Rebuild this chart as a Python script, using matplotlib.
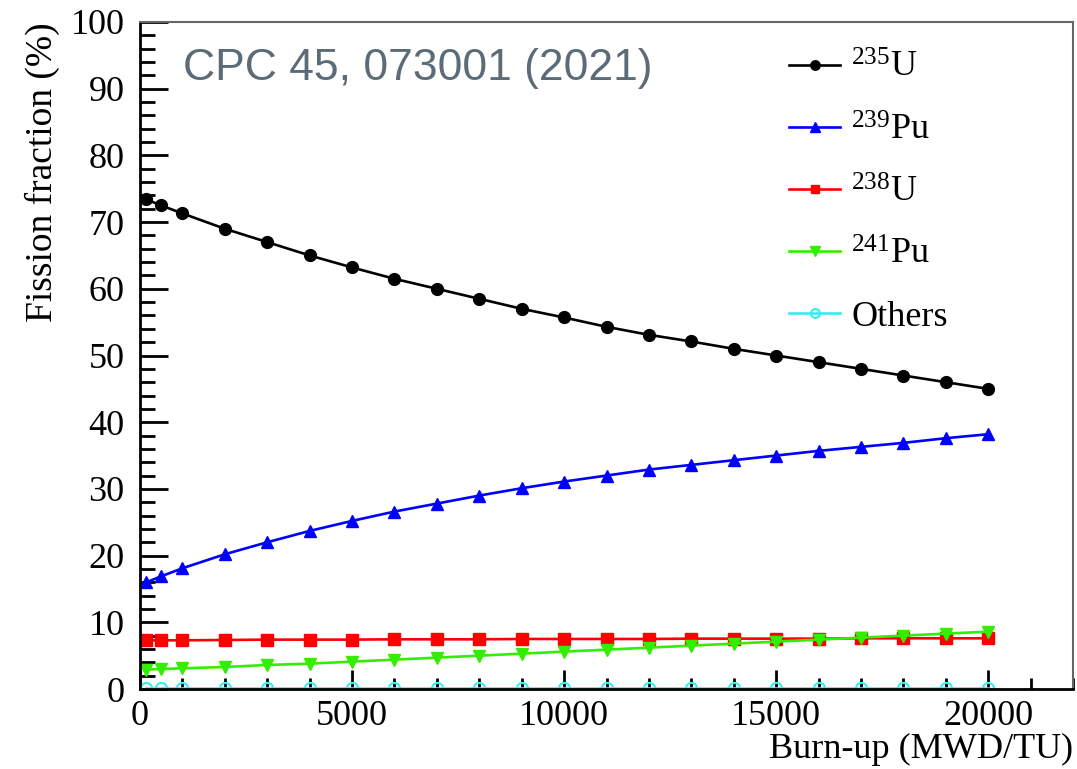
import matplotlib
matplotlib.use("Agg")
import matplotlib.pyplot as plt
from matplotlib.ticker import MultipleLocator

burnup = [150, 500, 1000, 2000, 3000, 4000, 5000, 6000, 7000, 8000, 9000, 10000,
          11000, 12000, 13000, 14000, 15000, 16000, 17000, 18000, 19000, 20000]
u235 = [73.4, 72.5, 71.3, 69.0, 67.0, 65.0, 63.2, 61.5, 60.0, 58.5, 57.0, 55.7,
        54.3, 53.1, 52.1, 51.0, 50.0, 49.0, 48.0, 47.0, 46.0, 45.0]
pu239 = [16.0, 16.9, 18.1, 20.2, 22.0, 23.7, 25.2, 26.6, 27.8, 29.0, 30.1, 31.1,
         32.0, 32.9, 33.6, 34.3, 35.0, 35.7, 36.3, 36.9, 37.6, 38.2]
u238 = [7.3, 7.3, 7.3, 7.35, 7.4, 7.4, 7.4, 7.45, 7.45, 7.45, 7.5, 7.5,
        7.5, 7.5, 7.55, 7.55, 7.55, 7.55, 7.6, 7.6, 7.6, 7.6]
pu241 = [2.9, 3.0, 3.1, 3.3, 3.6, 3.8, 4.1, 4.4, 4.7, 5.0, 5.3, 5.6,
         5.9, 6.2, 6.5, 6.8, 7.1, 7.4, 7.7, 8.0, 8.3, 8.6]
others = [0.2] * 22

labels = [r"$^{235}$U", r"$^{239}$Pu", r"$^{238}$U", r"$^{241}$Pu", "Others"]
x_ticks = [0, 5000, 10000, 15000, 20000]
y_ticks = [0, 10, 20, 30, 40, 50, 60, 70, 80, 90, 100]

plt.rcParams["font.family"] = ["Liberation Serif", "DejaVu Serif"]
plt.rcParams["mathtext.fontset"] = "custom"
plt.rcParams["mathtext.rm"] = "Liberation Serif"
plt.rcParams["mathtext.it"] = "Liberation Serif:italic"

W, H = 1077, 769
fig = plt.figure(figsize=(W / 100, H / 100), dpi=100)
ax = fig.add_axes([140 / W, 1 - 689 / H, (1073 - 140) / W, (689 - 22) / H])

lw = 1.9
ax.plot(burnup, u235, color="black", lw=lw, marker="o", ms=8.5, label=labels[0])
ax.plot(burnup, pu239, color="#0000ff", lw=lw, marker="^", ms=8.5, label=labels[1])
ax.plot(burnup, u238, color="#ff0000", lw=lw, marker="s", ms=8, label=labels[2])
ax.plot(burnup, pu241, color="#33ee00", lw=lw, marker="v", ms=8.5, label=labels[3])
ax.plot(burnup, others, color="#33eeee", lw=lw, marker="o", ms=8, mfc="none",
        mew=1.5, label=labels[4])

ax.set_xlim(0, 22000)
ax.set_ylim(0, 100)
ax.set_xticks(x_ticks)
ax.set_yticks(y_ticks)
ax.xaxis.set_minor_locator(MultipleLocator(1000))
ax.yaxis.set_minor_locator(MultipleLocator(2))
ax.tick_params(axis="y", which="major", direction="in", length=20, width=2,
               pad=11, labelsize=26, left=True, right=False)
ax.tick_params(axis="y", which="minor", direction="in", length=11, width=2,
               left=True, right=False)
ax.tick_params(axis="x", which="major", direction="in", length=14, width=2,
               pad=8, labelsize=26, bottom=True, top=False)
ax.tick_params(axis="x", which="minor", direction="in", length=8, width=2,
               bottom=True, top=False)

for s in ["left", "bottom"]:
    ax.spines[s].set_linewidth(2)
    ax.spines[s].set_color("black")
for s in ["top", "right"]:
    ax.spines[s].set_linewidth(1.5)
    ax.spines[s].set_color("#666666")

fig.text(1073 / W, 1 - 758 / H, "Burn-up (MWD/TU)", ha="right", va="baseline", fontsize=26)
fig.text(42 / W, 1 - 22 / H, "Fission fraction (%)", ha="center", va="top",
         rotation=90, fontsize=27)

fig.text(183 / W, 1 - 80 / H, "CPC 45, 073001 (2021)", ha="left", va="baseline",
         fontsize=32, color="#5b6b77", family=["Liberation Sans", "DejaVu Sans"])

ax.legend(loc="upper left", bbox_to_anchor=(789 / W, 1 - 52 / H),
          bbox_transform=fig.transFigure, frameon=False, fontsize=26,
          handlelength=1.42, handletextpad=0.3, labelspacing=0.8,
          borderpad=0, borderaxespad=0, markerscale=0.8)

fig.savefig("out.png", dpi=100)
